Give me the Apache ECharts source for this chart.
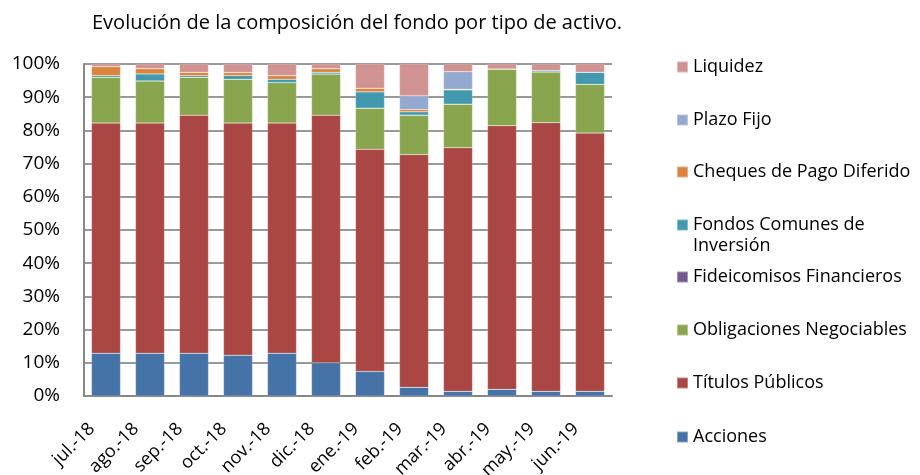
<!DOCTYPE html>
<html>
<head>
<meta charset="utf-8">
<script src="https://cdn.jsdelivr.net/npm/echarts@6/dist/echarts.min.js"></script>
<style>
  html, body { margin: 0; padding: 0; background: #fff; }
  #chart { width: 920px; height: 475px; }
</style>
</head>
<body>
<div id="chart"></div>
<script>
// datos (% de la cartera)
const categories = ['jul.-18', 'ago.-18', 'sep.-18', 'oct.-18', 'nov.-18', 'dic.-18',
  'ene.-19', 'feb.-19', 'mar.-19', 'abr.-19', 'may.-19', 'jun.-19']
const acciones = [12.9, 12.9, 12.9, 12.3, 12.9, 10.0, 7.4, 2.6, 1.4, 2.0, 1.4, 1.4]
const titulosPublicos = [69.3, 69.3, 71.7, 69.9, 69.3, 74.6, 66.9, 70.1, 73.4, 79.4, 80.9, 77.8]
const obligaciones = [13.8, 12.7, 11.4, 13.2, 12.2, 12.4, 12.4, 11.9, 13.1, 17.1, 15.3, 14.7]
const fideicomisos = [0, 0, 0, 0, 0, 0, 0, 0, 0, 0, 0, 0]
const fondosComunes = [0.5, 2.1, 0.5, 1.1, 1.0, 0.5, 4.9, 1.0, 4.3, 0, 0.4, 3.6]
const cheques = [2.7, 1.6, 1.0, 0.9, 1.1, 1.1, 1.1, 0.7, 0.2, 0, 0, 0]
const plazoFijo = [0, 0, 0, 0, 0, 0, 0, 4.1, 5.3, 0, 0, 0]
const liquidez = [0.8, 1.4, 2.5, 2.6, 3.5, 1.4, 7.3, 9.6, 2.3, 1.5, 2.0, 2.5]
const yTicks = [0, 10, 20, 30, 40, 50, 60, 70, 80, 90, 100]

const FONT = 'Open Sans'
const seriesDefs = [
  { name: 'Acciones', data: acciones, color: '#4572A7' },
  { name: 'Títulos Públicos', data: titulosPublicos, color: '#AA4643' },
  { name: 'Obligaciones Negociables', data: obligaciones, color: '#89A54E' },
  { name: 'Fideicomisos Financieros', data: fideicomisos, color: '#71588F' },
  { name: 'Fondos Comunes de Inversión', data: fondosComunes, color: '#4198AF' },
  { name: 'Cheques de Pago Diferido', data: cheques, color: '#DB843D' },
  { name: 'Plazo Fijo', data: plazoFijo, color: '#93A9CF' },
  { name: 'Liquidez', data: liquidez, color: '#D19392' }
]

// leyenda: de arriba hacia abajo
const legendOrder = ['Liquidez', 'Plazo Fijo', 'Cheques de Pago Diferido', 'Fondos Comunes de Inversión',
  'Fideicomisos Financieros', 'Obligaciones Negociables', 'Títulos Públicos', 'Acciones']
const legendCenters = [62, 115, 167, 220, 272, 325, 378, 432]

const legends = legendOrder.map((name, i) => ({
  data: [name],
  left: 671,
  top: legendCenters[i] - 11,
  itemWidth: 11,
  itemHeight: 11,
  itemGap: 6,
  icon: 'rect',
  selectedMode: false,
  formatter: n => n === 'Fondos Comunes de Inversión' ? 'Fondos Comunes de' : n,
  textStyle: { fontFamily: FONT, fontSize: 18, color: '#000', lineHeight: 22 }
}))

const myChart = echarts.init(document.getElementById('chart'))
const option = {
  animation: false,
  title: {
    text: 'Evolución de la composición del fondo por tipo de activo.',
    left: 87,
    top: 8,
    textStyle: { fontFamily: FONT, fontSize: 20, fontWeight: 'normal', color: '#000' }
  },
  legend: legends,
  graphic: [{
    type: 'text',
    left: 693,
    top: 237,
    style: { text: 'Inversión', fontFamily: FONT, fontSize: 18, fill: '#000' }
  }],
  grid: { left: 84, right: 308, top: 64, bottom: 79, outerBoundsMode: 'none' },
  xAxis: {
    type: 'category',
    data: categories,
    axisLine: { lineStyle: { color: '#888', width: 2 } },
    axisTick: { show: false },
    axisLabel: {
      rotate: 45, margin: 16, padding: [0, 20, 0, 0],
      fontFamily: FONT, fontSize: 18, color: '#000', interval: 0
    }
  },
  yAxis: {
    type: 'value',
    min: yTicks[0],
    max: yTicks[yTicks.length - 1],
    interval: 10,
    axisLine: { show: true, lineStyle: { color: '#888', width: 2 } },
    axisTick: { show: false },
    axisLabel: { formatter: '{value}%', margin: 24, fontFamily: FONT, fontSize: 19, color: '#000' },
    splitLine: { lineStyle: { color: '#999', width: 2 } }
  },
  series: seriesDefs.map(s => ({
    name: s.name,
    type: 'bar',
    stack: 'total',
    barCategoryGap: '34%',
    data: s.data,
    itemStyle: { color: s.color, borderColor: 'rgba(255,255,255,0.35)', borderWidth: 0.5 }
  }))
}
myChart.setOption(option)
</script>
</body>
</html>
